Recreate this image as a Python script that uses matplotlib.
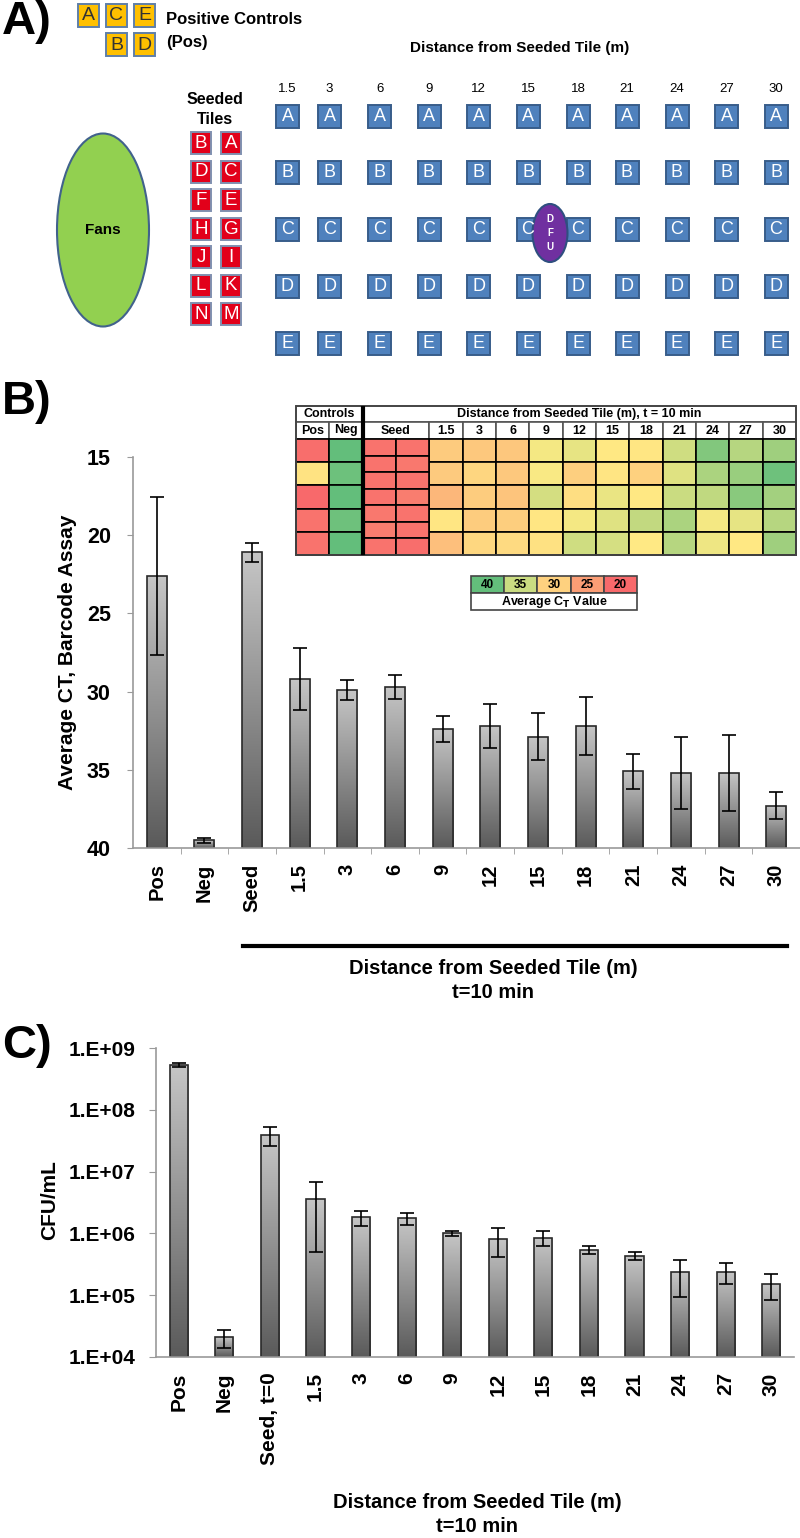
import numpy as np
import matplotlib
matplotlib.use('Agg')
import matplotlib.pyplot as plt
from matplotlib.patches import Rectangle, Ellipse
from matplotlib.colors import LinearSegmentedColormap, Normalize
from matplotlib.ticker import FixedLocator, FuncFormatter

plt.rcParams['font.family'] = ['Liberation Sans', 'DejaVu Sans']

# ---------------- data ----------------
distances = ['1.5', '3', '6', '9', '12', '15', '18', '21', '24', '27', '30']
grid_rows = ['A', 'B', 'C', 'D', 'E']
pos_ctrl_top = ['A', 'C', 'E']
pos_ctrl_bottom = ['B', 'D']
seeded_pairs = [('B', 'A'), ('D', 'C'), ('F', 'E'), ('H', 'G'), ('J', 'I'), ('L', 'K'), ('N', 'M')]

cat_B = ['Pos', 'Neg', 'Seed'] + distances
ct_mean = [22.6, 39.5, 21.1, 29.2, 29.9, 29.7, 32.4, 32.2, 32.9, 32.2, 35.1, 35.2, 35.2, 37.3]
ct_err = [5.05, 0.15, 0.6, 2.0, 0.66, 0.75, 0.85, 1.4, 1.5, 1.87, 1.1, 2.3, 2.45, 0.85]

cat_C = ['Pos', 'Neg', 'Seed, t=0'] + distances
cfu_mean = [5.4e8, 2.1e4, 3.9e7, 3.6e6, 1.82e6, 1.75e6, 1.0e6, 8.2e5, 8.5e5, 5.4e5, 4.35e5, 2.33e5, 2.39e5, 1.51e5]
cfu_err = [4e7, 6.8e3, 1.3e7, 3.1e6, 5e5, 3.8e5, 1e5, 4e5, 2.3e5, 8e4, 6.5e4, 1.4e5, 9e4, 6.7e4]

heat_pos = [20.5, 31.7, 20.0, 21.0, 21.0]
heat_neg = [40.0, 39.5, 40.0, 39.4, 40.0]
heat_seed = [[21, 21], [21, 21.5], [21, 21], [21, 22], [21.5, 21], [22, 21], [21, 20.5]]
heat_dist_cols = [
    [29.4, 29.3, 27.5, 32.0, 28.3],
    [29.2, 30.5, 29.5, 29.5, 30.6],
    [29.0, 29.2, 28.7, 29.7, 30.8],
    [33.0, 32.8, 34.6, 32.0, 31.5],
    [33.6, 29.8, 31.3, 33.0, 34.8],
    [32.2, 31.9, 33.5, 34.0, 34.5],
    [32.0, 30.0, 32.2, 35.4, 32.3],
    [34.8, 34.0, 35.0, 36.5, 36.0],
    [38.5, 36.5, 35.5, 33.0, 33.3],
    [36.0, 37.4, 38.2, 33.7, 32.2],
    [37.1, 39.4, 36.9, 36.0, 37.1],
]
legend_vals = [40, 35, 30, 25, 20]

# ---------------- figure ----------------
W, H = 800, 1538
fig = plt.figure(figsize=(W / 100, H / 100), dpi=100)


def fx(px):
    return px / W


def fy(py):
    return 1 - py / H


def ax_rect(left, top, right, bottom):
    return [fx(left), fy(bottom), (right - left) / W, (bottom - top) / H]


gray_cmap = LinearSegmentedColormap.from_list('g', ['#5a5a5a', '#c6c6c6'])
grad = np.linspace(1, 0, 256).reshape(-1, 1)


def gradient_fill(ax, bars):
    inv = ax.transAxes.inverted()
    for b in bars:
        bb = b.get_window_extent()
        (x0, y0), (x1, y1) = inv.transform([[bb.x0, bb.y0], [bb.x1, bb.y1]])
        lo, hi = min(y0, y1), max(y0, y1)
        im = ax.imshow(grad, extent=(x0, x1, lo, hi), transform=ax.transAxes,
                       cmap=gray_cmap, vmin=0, vmax=1, aspect='auto', origin='upper',
                       zorder=0.5, interpolation='bilinear')
        im.set_clip_path(b)


AX_GRAY = '#9a9a9a'

# ---------------- Panel B ----------------
axB = fig.add_axes(ax_rect(133, 457, 800, 848))
xB = np.arange(len(cat_B))
barsB = axB.bar(xB, np.array(ct_mean) - 40, bottom=40, width=0.42,
                facecolor='none', edgecolor='#2a2a2a', linewidth=1.2, zorder=1)
axB.errorbar(xB, ct_mean, yerr=ct_err, fmt='none', ecolor='black',
             elinewidth=1.2, capsize=5, capthick=1.2, zorder=3)
axB.set_xlim(-0.5, len(cat_B) - 0.5)
axB.set_ylim(40, 15)
gradient_fill(axB, barsB)
axB.set_xlim(-0.5, len(cat_B) - 0.5)
axB.set_ylim(40, 15)
axB.set_yticks([15, 20, 25, 30, 35, 40])
axB.set_xticks(xB)
axB.set_xticklabels(cat_B, rotation=90, fontsize=14.5, fontweight='bold')
axB.xaxis.set_minor_locator(FixedLocator(np.arange(0.5, len(cat_B), 1.0)))
axB.tick_params(axis='x', which='major', length=0, pad=11)
axB.tick_params(axis='x', which='minor', length=4, color=AX_GRAY, direction='out')
axB.tick_params(axis='y', length=4, color=AX_GRAY, pad=12, labelsize=15.5)
for lab in axB.get_yticklabels():
    lab.set_fontweight('bold')
for s in ['top', 'right']:
    axB.spines[s].set_visible(False)
for s in ['left', 'bottom']:
    axB.spines[s].set_color(AX_GRAY)
    axB.spines[s].set_linewidth(1.2)

# ---------------- Panel C ----------------
axC = fig.add_axes(ax_rect(156, 1048, 794, 1357))
xC = np.arange(len(cat_C))
axC.set_yscale('log')
axC.set_xlim(-0.5, len(cat_C) - 0.5)
axC.set_ylim(1e4, 1e9)
base = 1e4
barsC = axC.bar(xC, np.array(cfu_mean) - base, bottom=base, width=0.4,
                facecolor='none', edgecolor='#2a2a2a', linewidth=1.2, zorder=1)
axC.errorbar(xC, cfu_mean, yerr=cfu_err, fmt='none', ecolor='black',
             elinewidth=1.2, capsize=5, capthick=1.2, zorder=3)
axC.set_xlim(-0.5, len(cat_C) - 0.5)
axC.set_ylim(1e4, 1e9)
gradient_fill(axC, barsC)
axC.set_xlim(-0.5, len(cat_C) - 0.5)
axC.set_ylim(1e4, 1e9)
axC.yaxis.set_major_locator(FixedLocator([1e4, 1e5, 1e6, 1e7, 1e8, 1e9]))
axC.yaxis.set_minor_locator(FixedLocator([]))
axC.yaxis.set_major_formatter(FuncFormatter(lambda v, p: '1.E+%02d' % int(round(np.log10(v)))))
axC.set_xticks(xC)
axC.set_xticklabels(cat_C, rotation=90, fontsize=15, fontweight='bold')
axC.tick_params(axis='x', length=0, pad=11)
axC.tick_params(axis='y', length=5, color=AX_GRAY, pad=10, labelsize=15)
for lab in axC.get_yticklabels():
    lab.set_fontweight('bold')
for s in ['top', 'right']:
    axC.spines[s].set_visible(False)
for s in ['left', 'bottom']:
    axC.spines[s].set_color(AX_GRAY)
    axC.spines[s].set_linewidth(1.2)

# ---------------- overlay (Panel A, heatmap, labels) ----------------
ov = fig.add_axes([0, 0, 1, 1], zorder=5)
ov.set_xlim(0, W)
ov.set_ylim(H, 0)
ov.axis('off')
ov.patch.set_alpha(0)

# y-axis titles
ov.text(68, 652, 'Average CT, Barcode Assay', fontsize=15, fontweight='bold', rotation=90,
        ha='center', va='center')
ov.text(50, 1200, 'CFU/mL', fontsize=15, fontweight='bold', rotation=90, ha='center', va='center')

# panel letters
for lab, yy in [('A)', 22), ('B)', 402), ('C)', 1046)]:
    ov.text(2, yy, lab, fontsize=34, fontweight='bold', ha='left', va='center')


def tile(cx, cy, letter, fc, ec, tc, w=22, h=23, fs=13):
    ov.add_patch(Rectangle((cx - w / 2, cy - h / 2), w, h, facecolor=fc, edgecolor=ec, linewidth=1.4))
    ov.text(cx, cy + 0.5, letter, color=tc, fontsize=fs, ha='center', va='center')


# positive controls
ORANGE, ORANGE_EC = '#FFC000', '#5f7fa8'
pc_x = [88.5, 116.5, 144.5]
for i, l in enumerate(pos_ctrl_top):
    tile(pc_x[i], 15.5, l, ORANGE, ORANGE_EC, '#333333', w=21, h=23, fs=14)
for i, l in enumerate(pos_ctrl_bottom):
    tile(pc_x[i + 1], 44.5, l, ORANGE, ORANGE_EC, '#333333', w=21, h=23, fs=14)
ov.text(166, 20, 'Positive Controls', fontsize=12, fontweight='bold', ha='left', va='center')
ov.text(166, 42, '(Pos)', fontsize=12, fontweight='bold', ha='left', va='center')

# distance header
ov.text(520, 48, 'Distance from Seeded Tile (m)', fontsize=11, fontweight='bold', ha='center', va='center')

# fans
ov.add_patch(Ellipse((103, 230), 92, 193, facecolor='#92D050', edgecolor='#41628C', linewidth=1.5))
ov.text(103, 230, 'Fans', fontsize=11, fontweight='bold', ha='center', va='center')

# seeded tiles
ov.text(215, 99, 'Seeded', fontsize=11.5, fontweight='bold', ha='center', va='center')
ov.text(215, 119, 'Tiles', fontsize=11.5, fontweight='bold', ha='center', va='center')
seed_y = [143, 171.5, 200, 228.5, 257, 285.5, 314]
for r, (l1, l2) in enumerate(seeded_pairs):
    tile(201, seed_y[r], l1, '#E2001A', '#8090B0', 'white', w=20, h=22, fs=13.5)
    tile(231, seed_y[r], l2, '#E2001A', '#8090B0', 'white', w=20, h=22, fs=13.5)

# blue grid
grid_x = [287.5, 329.6, 379.8, 429, 478.8, 528, 578, 627, 677, 726.5, 776]
grid_y = [116, 172, 229, 286, 343]
for j, d in enumerate(distances):
    ov.text(grid_x[j], 89, d, fontsize=9.5, ha='center', va='center')
    for i, r in enumerate(grid_rows):
        tile(grid_x[j], grid_y[i], r, '#4F81BD', '#385D8A', 'white', w=23, h=23, fs=13)

# DFU
ov.add_patch(Ellipse((550, 233), 35, 58, facecolor='#7030A0', edgecolor='#2F4F80', linewidth=1.5))
for k, ch in enumerate('DFU'):
    ov.text(550, 219 + 14 * k, ch, color='white', fontsize=7, fontweight='bold', ha='center', va='center')

# ---------------- heatmap inset ----------------
ct_cmap = LinearSegmentedColormap.from_list(
    'ct', [(0.0, '#F8696B'), (12.5 / 20, '#FFEB84'), (1.0, '#63BE7B')])
ct_norm = Normalize(vmin=20, vmax=40)

TL, TT = 296, 405.7
CW = 33.33
h1, h2 = 16.3, 17.0
RH = 23.2
data_top = TT + h1 + h2
n_rows = 5
data_bot = data_top + n_rows * RH


def cell(x, y, w, h, val=None, ec='black', lw=1.2, fc='white'):
    color = ct_cmap(ct_norm(val)) if val is not None else fc
    ov.add_patch(Rectangle((x, y), w, h, facecolor=color, edgecolor=ec, linewidth=lw))


# header
HDR_EC = '#555555'
cell(TL, TT, 2 * CW, h1, ec=HDR_EC)
ov.text(TL + CW, TT + h1 / 2, 'Controls', fontsize=9, fontweight='bold', ha='center', va='center')
cell(TL + 2 * CW, TT, 13 * CW, h1, ec=HDR_EC)
ov.text(TL + 2 * CW + 6.5 * CW, TT + h1 / 2, 'Distance from Seeded Tile (m), t = 10 min',
        fontsize=9, fontweight='bold', ha='center', va='center')
hdr_labels = [('Pos', 0, 1), ('Neg', 1, 1), ('Seed', 2, 2)] + [(d, 4 + k, 1) for k, d in enumerate(distances)]
for lab, c0, span in hdr_labels:
    cell(TL + c0 * CW, TT + h1, span * CW, h2, ec=HDR_EC)
    ov.text(TL + (c0 + span / 2) * CW, TT + h1 + h2 / 2, lab, fontsize=9, fontweight='bold',
            ha='center', va='center')

# data cells
for r in range(n_rows):
    y = data_top + r * RH
    cell(TL, y, CW, RH, heat_pos[r])
    cell(TL + CW, y, CW, RH, heat_neg[r])
    for k in range(len(distances)):
        cell(TL + (4 + k) * CW, y, CW, RH, heat_dist_cols[k][r])
SRH = n_rows * RH / len(heat_seed)
for r, pair in enumerate(heat_seed):
    for c, v in enumerate(pair):
        cell(TL + (2 + c) * CW, data_top + r * SRH, CW, SRH, v)
ov.plot([TL + 2 * CW, TL + 2 * CW], [TT, data_bot], color='black', linewidth=3, solid_capstyle='butt')
ov.add_patch(Rectangle((TL, TT), 15 * CW, data_bot - TT, facecolor='none', edgecolor='#444444', linewidth=1.3))

# colour legend
LL, LT, LW, LH = 471, 576, 33.2, 17
for k, v in enumerate(legend_vals):
    cell(LL + k * LW, LT, LW, LH, v, ec='#444444')
    ov.text(LL + (k + 0.5) * LW, LT + LH / 2, str(v), fontsize=8.5, fontweight='bold', ha='center', va='center')
cell(LL, LT + LH, 5 * LW, LH, ec='#444444')
ov.text(LL + 2.5 * LW, LT + LH * 1.5, r'Average C$_\mathbf{T}$ Value', fontsize=9, fontweight='bold',
        ha='center', va='center')

# ---------------- axis titles below B and C ----------------
ov.plot([243, 787], [946, 946], color='black', linewidth=3)
ov.text(493, 968, 'Distance from Seeded Tile (m)', fontsize=14.5, fontweight='bold', ha='center', va='center')
ov.text(493, 993, 't=10 min', fontsize=14.5, fontweight='bold', ha='center', va='center')
ov.text(477, 1503, 'Distance from Seeded Tile (m)', fontsize=14.5, fontweight='bold', ha='center', va='center')
ov.text(477, 1527, 't=10 min', fontsize=14.5, fontweight='bold', ha='center', va='center')

fig.savefig('out.png', dpi=100)
